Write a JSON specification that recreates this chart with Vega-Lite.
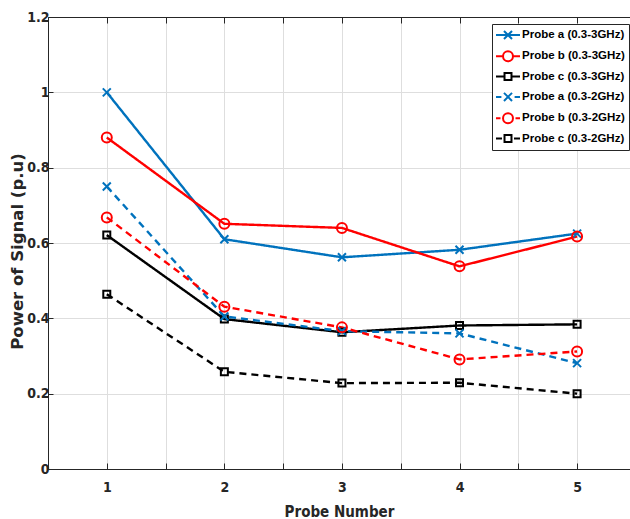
{
  "$schema": "https://vega.github.io/schema/vega-lite/v6.json",
  "width": 582,
  "height": 452,
  "autosize": {"type": "none"},
  "padding": {"left": 48, "top": 17, "right": 0, "bottom": 50},
  "background": "white",
  "config": {"view": {"stroke": null}},
  "data": {"values": [
    {"series": "Probe a (0.3-3GHz)", "probe": 1, "power": 1.0},
    {"series": "Probe a (0.3-3GHz)", "probe": 2, "power": 0.61},
    {"series": "Probe a (0.3-3GHz)", "probe": 3, "power": 0.562},
    {"series": "Probe a (0.3-3GHz)", "probe": 4, "power": 0.582},
    {"series": "Probe a (0.3-3GHz)", "probe": 5, "power": 0.625},
    {"series": "Probe b (0.3-3GHz)", "probe": 1, "power": 0.88},
    {"series": "Probe b (0.3-3GHz)", "probe": 2, "power": 0.651},
    {"series": "Probe b (0.3-3GHz)", "probe": 3, "power": 0.64},
    {"series": "Probe b (0.3-3GHz)", "probe": 4, "power": 0.538},
    {"series": "Probe b (0.3-3GHz)", "probe": 5, "power": 0.617},
    {"series": "Probe c (0.3-3GHz)", "probe": 1, "power": 0.621},
    {"series": "Probe c (0.3-3GHz)", "probe": 2, "power": 0.398},
    {"series": "Probe c (0.3-3GHz)", "probe": 3, "power": 0.363},
    {"series": "Probe c (0.3-3GHz)", "probe": 4, "power": 0.381},
    {"series": "Probe c (0.3-3GHz)", "probe": 5, "power": 0.384},
    {"series": "Probe a (0.3-2GHz)", "probe": 1, "power": 0.75},
    {"series": "Probe a (0.3-2GHz)", "probe": 2, "power": 0.405},
    {"series": "Probe a (0.3-2GHz)", "probe": 3, "power": 0.366},
    {"series": "Probe a (0.3-2GHz)", "probe": 4, "power": 0.36},
    {"series": "Probe a (0.3-2GHz)", "probe": 5, "power": 0.281},
    {"series": "Probe b (0.3-2GHz)", "probe": 1, "power": 0.668},
    {"series": "Probe b (0.3-2GHz)", "probe": 2, "power": 0.431},
    {"series": "Probe b (0.3-2GHz)", "probe": 3, "power": 0.376},
    {"series": "Probe b (0.3-2GHz)", "probe": 4, "power": 0.291},
    {"series": "Probe b (0.3-2GHz)", "probe": 5, "power": 0.312},
    {"series": "Probe c (0.3-2GHz)", "probe": 1, "power": 0.464},
    {"series": "Probe c (0.3-2GHz)", "probe": 2, "power": 0.258},
    {"series": "Probe c (0.3-2GHz)", "probe": 3, "power": 0.228},
    {"series": "Probe c (0.3-2GHz)", "probe": 4, "power": 0.229},
    {"series": "Probe c (0.3-2GHz)", "probe": 5, "power": 0.2}
  ]},
  "resolve": {"axis": {"x": "independent"}},
  "layer": [
    {
      "mark": {"type": "line", "strokeWidth": 2.4},
      "encoding": {
        "x": {"field": "probe", "type": "quantitative",
          "scale": {"domain": [0.5, 5.45], "nice": false, "zero": false},
          "axis": {"values": [0.5, 1, 1.5, 2, 2.5, 3, 3.5, 4, 4.5, 5], "format": "~g",
            "labelExpr": "datum.value % 1 === 0 ? datum.label : ''",
            "title": "Probe Number", "grid": true, "gridColor": "#dedede", "gridWidth": 1,
            "domainColor": "#262626", "tickColor": "#262626", "tickSize": -6, "tickWidth": 1,
            "labelFont": "DejaVu Sans Condensed, Liberation Sans, sans-serif", "labelFontSize": 14, "labelFontWeight": "bold", "labelColor": "#262626",
            "labelPadding": 17, "labelFlush": false,
            "titleFont": "DejaVu Sans Condensed, Liberation Sans, sans-serif", "titleFontSize": 15, "titleFontWeight": "bold", "titleColor": "#262626",
            "titlePadding": 10}},
        "y": {"field": "power", "type": "quantitative",
          "scale": {"domain": [0, 1.2], "nice": false},
          "axis": {"values": [0, 0.2, 0.4, 0.6, 0.8, 1, 1.2], "format": "~g",
            "title": "Power of Signal (p.u)", "grid": true, "gridColor": "#dedede", "gridWidth": 1,
            "domainColor": "#262626", "tickColor": "#262626", "tickSize": -5, "tickWidth": 1,
            "labelFont": "DejaVu Sans Condensed, Liberation Sans, sans-serif", "labelFontSize": 14, "labelFontWeight": "bold", "labelColor": "#262626",
            "labelPadding": 4,
            "titleFont": "DejaVu Sans", "titleFontSize": 16.5, "titleFontWeight": "bold", "titleColor": "#262626",
            "titlePadding": 1, "titleY": 234}},
        "color": {"field": "series", "type": "nominal",
          "scale": {"domain": ["Probe a (0.3-3GHz)", "Probe b (0.3-3GHz)", "Probe c (0.3-3GHz)", "Probe a (0.3-2GHz)", "Probe b (0.3-2GHz)", "Probe c (0.3-2GHz)"],
                    "range": ["#0072BD", "#FF0000", "#000000", "#0072BD", "#FF0000", "#000000"]},
          "legend": {"title": null, "orient": "none", "legendX": 444, "legendY": 7,
            "strokeColor": "#262626", "fillColor": "white", "padding": 4,
            "symbolSize": 144, "symbolStrokeWidth": 2, "symbolOffset": 5, "labelOffset": 7,
            "rowPadding": 3.3,
            "labelFont": "Liberation Sans, sans-serif", "labelFontSize": 11.5, "labelFontWeight": "bold", "labelColor": "#000000",
            "encode": {"symbols": {"update": {
              "fill": {"value": "transparent"},
              "strokeWidth": {"value": 2},
              "shape": {"signal": "['M-2,0H2M-0.67,-0.67L0.67,0.67M-0.67,0.67L0.67,-0.67','M-2,0H-0.83M0.83,0H2M0.83,0A0.83,0.83,0,1,1,-0.83,0A0.83,0.83,0,1,1,0.83,0','M-2,0H-0.58M0.58,0H2M-0.58,-0.58H0.58V0.58H-0.58Z','M-2,0H-1.1M1.1,0H2M-0.67,-0.67L0.67,0.67M-0.67,0.67L0.67,-0.67','M-2,0H-1.25M1.25,0H2M0.83,0A0.83,0.83,0,1,1,-0.83,0A0.83,0.83,0,1,1,0.83,0','M-2,0H-1M1,0H2M-0.58,-0.58H0.58V0.58H-0.58Z'][indexof(['Probe a (0.3-3GHz)','Probe b (0.3-3GHz)','Probe c (0.3-3GHz)','Probe a (0.3-2GHz)','Probe b (0.3-2GHz)','Probe c (0.3-2GHz)'], datum.value)]"}
            }}}}},
        "strokeDash": {"condition": {"test": "indexof(datum.series, '2GHz') >= 0", "value": [7, 5]}, "value": [1, 0]}
      }
    },
    {
      "mark": {"type": "point", "filled": false, "strokeWidth": 2, "size": 100, "opacity": 1},
      "encoding": {
        "x": {"field": "probe", "type": "quantitative", "axis": null},
        "y": {"field": "power", "type": "quantitative"},
        "stroke": {"condition": [
            {"test": "indexof(datum.series, 'Probe a') === 0", "value": "#0072BD"},
            {"test": "indexof(datum.series, 'Probe b') === 0", "value": "#FF0000"}],
          "value": "#000000"},
        "shape": {"condition": [
            {"test": "indexof(datum.series, 'Probe a') === 0", "value": "M-0.8,-0.8L0.8,0.8M-0.8,0.8L0.8,-0.8"},
            {"test": "indexof(datum.series, 'Probe b') === 0", "value": "circle"}],
          "value": "M-0.7,-0.7H0.7V0.7H-0.7Z"}
      }
    },
    {
      "mark": {"type": "point", "opacity": 0},
      "encoding": {
        "x": {"field": "probe", "type": "quantitative",
          "axis": {"orient": "top", "values": [0.5, 1, 1.5, 2, 2.5, 3, 3.5, 4, 4.5, 5], "labels": false, "title": null, "grid": false,
            "domainColor": "#262626", "tickColor": "#262626", "tickSize": -6, "tickWidth": 1}},
        "y": {"field": "power", "type": "quantitative"}
      }
    }
  ]
}
